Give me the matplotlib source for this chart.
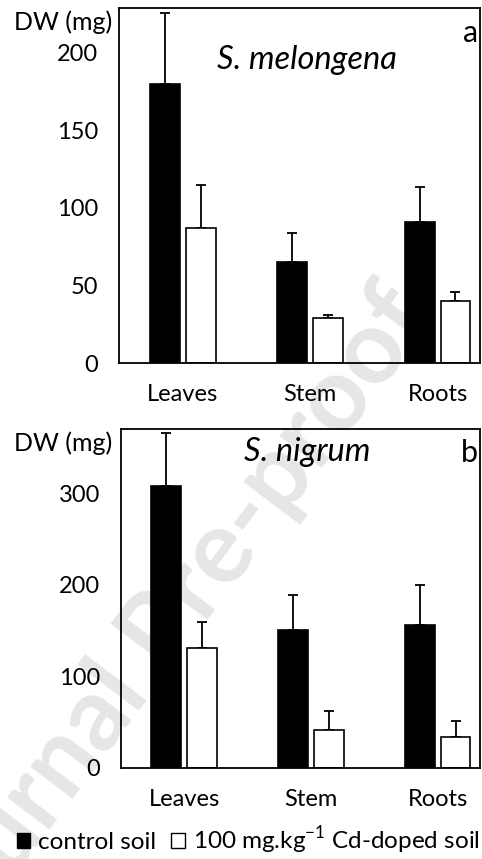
#!/usr/bin/env python3

import numpy as np
import matplotlib.pyplot as plt
from matplotlib.patches import Patch

plt.rcParams['font.family'] = ['Lato', 'DejaVu Sans']
plt.rcParams['mathtext.fontset'] = 'custom'
plt.rcParams['mathtext.rm'] = 'Lato'

organs = ['Leaves', 'Stem', 'Roots']

# S. melongena (panel a)
mel_control = [180, 65, 91]
mel_control_err = [46, 19, 22.5]
mel_cd = [87, 29, 40]
mel_cd_err = [28, 2, 6]

# S. nigrum (panel b)
nig_control = [308, 151, 156]
nig_control_err = [58, 38, 44]
nig_cd = [131, 41, 34]
nig_cd_err = [28, 21, 17]

fig = plt.figure(figsize=(4.82, 8.59), dpi=100)

# faint watermark behind everything
fig.text(0.35, 0.275, 'Journal Pre-proof', fontsize=74, color='#e6e6e6',
         weight='bold', rotation=53, ha='center', va='center', zorder=-5)

ax_a = fig.add_axes([0.247, 0.5774, 0.749, 0.4133])
ax_b = fig.add_axes([0.2504, 0.1063, 0.7456, 0.3939])

x = np.arange(len(organs))
w = 0.235
off = 0.14


def panel(ax, control, control_err, cd, cd_err, ymax, yticks, name, name_y, letter):
    ax.set_facecolor('none')
    ax.bar(x - off, control, w, color='black', edgecolor='black', lw=1.2, zorder=2)
    ax.bar(x + off, cd, w, color='white', edgecolor='black', lw=1.2, zorder=2)
    ax.errorbar(x - off, control, yerr=[np.zeros(3), control_err], fmt='none',
                ecolor='black', elinewidth=1.3, capsize=3.5, capthick=1.3, zorder=1)
    ax.errorbar(x + off, cd, yerr=[np.zeros(3), cd_err], fmt='none',
                ecolor='black', elinewidth=1.3, capsize=3.5, capthick=1.3, zorder=1)
    ax.set_xlim(-0.5, 2.333)
    ax.set_ylim(0, ymax)
    ax.set_yticks(yticks)
    ax.set_xticks(x)
    ax.set_xticklabels(organs)
    ax.tick_params(axis='both', length=0, labelsize=17)
    ax.tick_params(axis='y', pad=15)
    ax.tick_params(axis='x', pad=15)
    for s in ax.spines.values():
        s.set_linewidth(1.3)
    ax.text(0.52, name_y, name, transform=ax.transAxes, fontsize=23.5,
            style='italic', ha='center', va='center')
    ax.text(0.995, 0.97, letter, transform=ax.transAxes, fontsize=22,
            ha='right', va='top')


panel(ax_a, mel_control, mel_control_err, mel_cd, mel_cd_err, 229,
      [0, 50, 100, 150, 200], 'S. melongena', 0.853, 'a')
panel(ax_b, nig_control, nig_control_err, nig_cd, nig_cd_err, 370,
      [0, 100, 200, 300], 'S. nigrum', 0.934, 'b')

fig.text(0.131, 0.9744, 'DW (mg)', fontsize=18, ha='center', va='center')
fig.text(0.131, 0.4843, 'DW (mg)', fontsize=18, ha='center', va='center')

handles = [Patch(facecolor='black', edgecolor='black'),
           Patch(facecolor='white', edgecolor='black', lw=1.0)]
labels = ['control soil', '100 mg.kg$^{-1}$ Cd-doped soil']
fig.legend(handles, labels, ncol=2, loc='center', bbox_to_anchor=(0.515, 0.022),
           frameon=False, fontsize=17.5, handlelength=0.55, handleheight=0.55,
           handletextpad=0.35, columnspacing=0.6, borderaxespad=0,
           borderpad=0)

fig.savefig('out.png', dpi=100)
